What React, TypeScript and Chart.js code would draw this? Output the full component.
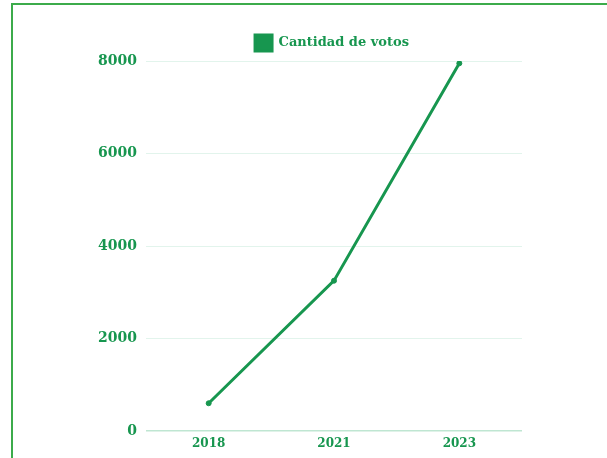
import React, { useEffect, useRef } from "react";
import { Chart, registerables } from "chart.js";

Chart.register(...registerables);

const years = ["2018", "2021", "2023"];
const votos = [600, 3250, 7950];
const yTicks = [0, 2000, 4000, 6000, 8000];
const seriesLabel = "Cantidad de votos";

const GREEN = "#17964f";
const FONT = "'DejaVu Serif', serif";

const legendShift = {
  id: "legendShift",
  afterLayout(chart: any) {
    const l = chart.legend;
    if (l) {
      l.left += 31;
      l.right += 31;
    }
  },
};

export default function App() {
  const ref = useRef<HTMLCanvasElement | null>(null);

  useEffect(() => {
    if (!ref.current) return;
    const chart = new Chart(ref.current, {
      type: "line",
      data: {
        labels: years,
        datasets: [
          {
            label: seriesLabel,
            data: votos,
            borderColor: GREEN,
            backgroundColor: GREEN,
            borderWidth: 3,
            pointRadius: 2.5,
            pointBorderWidth: 1,
            pointBackgroundColor: GREEN,
            pointBorderColor: GREEN,
            tension: 0,
          },
        ],
      },
      options: {
        animation: false,
        responsive: false,
        maintainAspectRatio: false,
        layout: { padding: { left: 80, right: 85, top: 23, bottom: 9 } },
        plugins: {
          legend: {
            display: true,
            labels: {
              boxWidth: 17,
              boxHeight: 16,
              padding: 12,
              color: GREEN,
              font: { family: FONT, size: 13, weight: "bold" },
            },
          },
          tooltip: { enabled: false },
        },
        scales: {
          x: {
            offset: true,
            grid: { display: false, drawTicks: false },
            border: { display: false },
            ticks: {
              color: GREEN,
              padding: 6,
              font: { family: FONT, size: 12, weight: "bold" },
            },
            afterFit: (s: any) => {
              s.height = 30;
            },
          },
          y: {
            min: 0,
            max: 8000,
            afterBuildTicks: (s: any) => {
              s.ticks = yTicks.map((v) => ({ value: v }));
            },
            grid: {
              drawTicks: false,
              color: (ctx: any) => (ctx.tick && ctx.tick.value === 0 ? "#bfe6d2" : "#e2f4ec"),
              lineWidth: (ctx: any) => (ctx.tick && ctx.tick.value === 0 ? 1.5 : 1),
            },
            border: { display: false },
            ticks: {
              color: GREEN,
              padding: 9,
              font: { family: FONT, size: 14, weight: "bold" },
              callback: (v: any) => String(v),
            },
            afterFit: (s: any) => {
              s.width = 66;
            },
          },
        },
      },
      plugins: [legendShift],
    });
    return () => chart.destroy();
  }, []);

  return (
    <div style={{ position: "absolute", left: 0, top: 0, width: 607, height: 458, overflow: "hidden", background: "#fff" }}>
      <div
        style={{
          position: "absolute",
          left: 11,
          top: 3,
          width: 640,
          height: 520,
          border: "2.5px solid #3cab4b",
          boxSizing: "border-box",
        }}
      />
      <canvas ref={ref} width={607} height={470} style={{ position: "absolute", left: 0, top: 0 }} />
    </div>
  );
}
